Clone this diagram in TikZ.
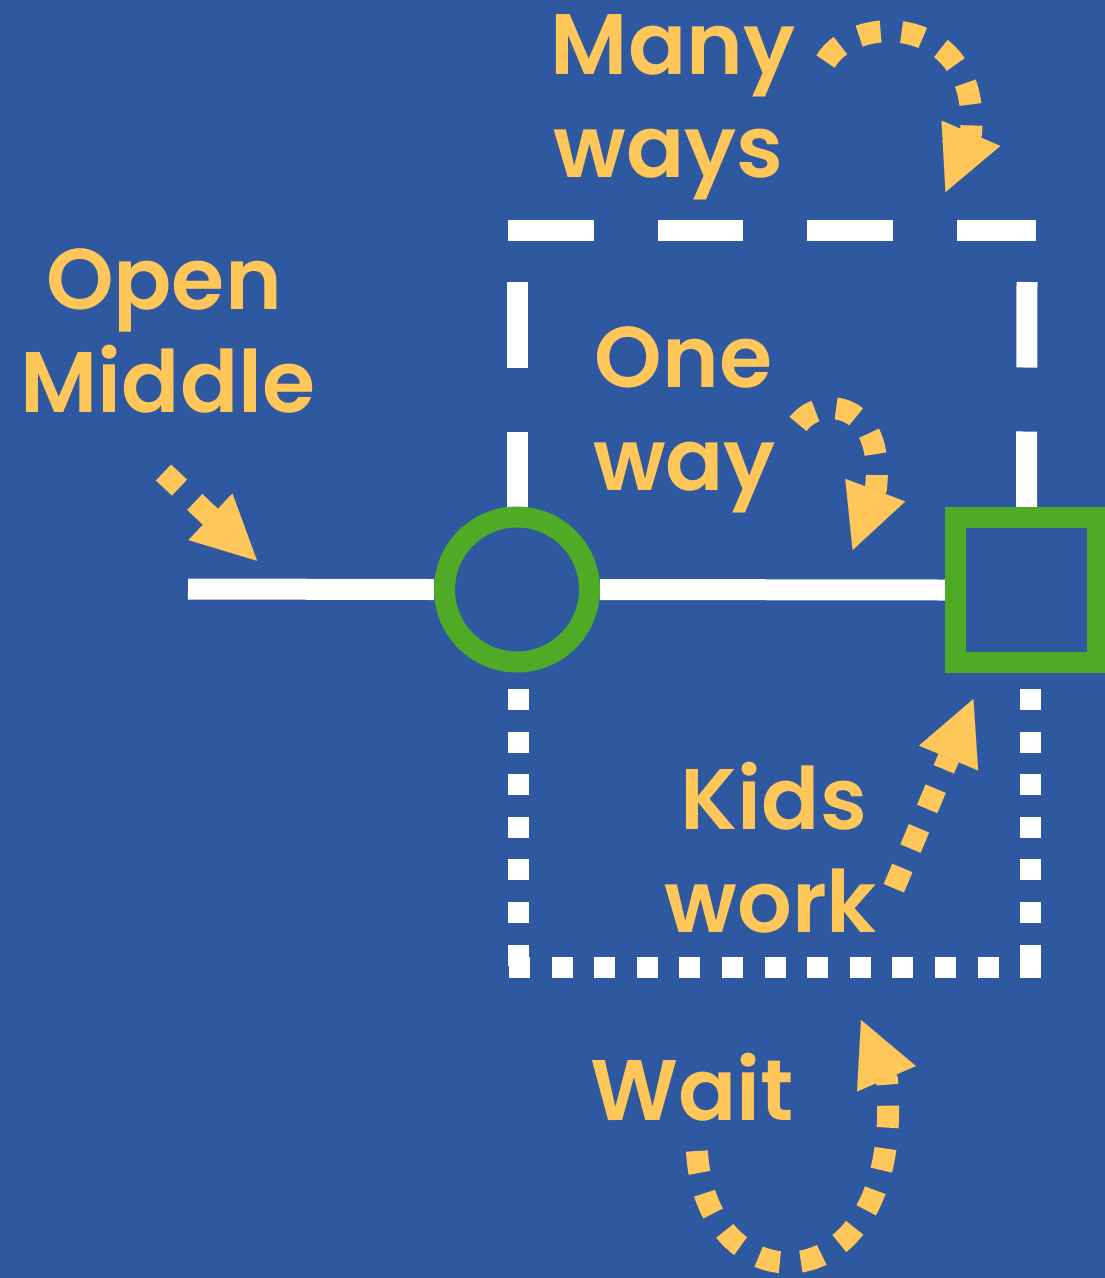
\documentclass[tikz,border=0pt]{standalone}
\usepackage{fontspec}
\setmainfont{Poppins SemiBold}
\usetikzlibrary{arrows.meta}
\definecolor{bgblue}{RGB}{46,88,160}
\definecolor{ayellow}{RGB}{255,198,89}
\definecolor{agreen}{RGB}{79,170,38}
\pgfdeclarelayer{bg}
\pgfsetlayers{bg,main}
\begin{document}
\begin{tikzpicture}[x=1pt,y=-1pt,
  lbl/.style={text=ayellow, font=\fontsize{86}{103}\selectfont, inner sep=0pt, anchor=base},
  wline/.style={draw=white, line width=21pt},
  dashline/.style={wline, dash pattern=on 85.5pt off 64pt},
  dotline/.style={wline, dash pattern=on 21pt off 21.6pt},
  yarrow/.style={draw=ayellow, line width=22pt, dash pattern=on 22pt off 21pt,
    -{Triangle[length=64pt,width=64pt,line width=0.1pt]}},
  shapebox/.style={draw=agreen, line width=21pt, fill=bgblue, inner sep=0pt}
]
\useasboundingbox (0,0) rectangle (1105,1278);
% shapes
\node[shapebox, circle, minimum size=145pt] (hub) at (517,589.5) {};
\node[shapebox, rectangle, minimum width=141.5pt, minimum height=144.5pt] (goal) at (1026.5,590) {};
% free ends
\coordinate (start) at (188,589);
\coordinate (tl) at (508,230);
\coordinate (tr) at (1036,230);
\coordinate (lt) at (517,282);
\coordinate (rt) at (1027,282);
\begin{pgfonlayer}{bg}
\fill[bgblue] (0,0) rectangle (1105,1278);
\draw[wline] (start) -- (hub.west);
\draw[wline] (hub.east) -- (goal.west);
\draw[dashline] (tl) -- (tr);
\draw[dashline] (lt) -- (hub.north);
\draw[dashline] (rt) -- (goal.north);
\draw[dotline] (518,689) -- (518,966);
\draw[dotline] (509,967.5) -- (1041,967.5);
\draw[dotline] (1030.5,689) -- (1030.5,966);
\end{pgfonlayer}
% labels
\node[lbl] (many) at (673,74) {Many};
\node[lbl] (ways) at (668.5,177) {ways};
\node[lbl] (one) at (683.5,387) {One};
\node[lbl] (way) at (684.5,490) {way};
\node[lbl] (open) at (164,309) {Open};
\node[lbl] (middle) at (168,412) {Middle};
\node[lbl] (kids) at (774,829) {Kids};
\node[lbl] (work) at (771,932) {work};
\node[lbl] (wait) at (692,1120) {Wait};
% yellow arrows
\draw[yarrow] (825.5,61.5) .. controls (855,12) and (980,15) .. (971,133) -- (945.5,192);
\draw[yarrow] (798,424) .. controls (820,395) and (885,400) .. (876,488) -- (852.6,550);
\draw[yarrow] (893.8,888.2) -- (973.4,699);
\draw[yarrow] (163.5,472.5) -- (257,560.7);
\draw[yarrow] (697,1151) .. controls (705,1310) and (905,1310) .. (887,1080) -- (861,1020);
\end{tikzpicture}
\end{document}
